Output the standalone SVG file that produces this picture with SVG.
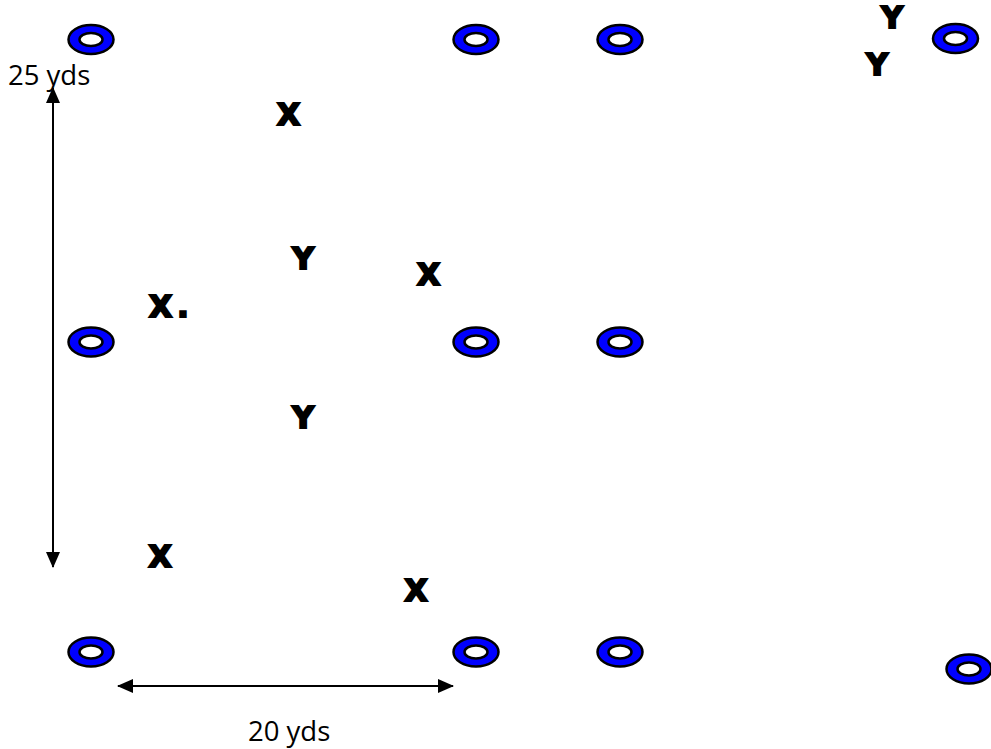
<svg xmlns="http://www.w3.org/2000/svg" width="991" height="749" viewBox="0 0 991 749">
<style>
.cone-o{fill:#0000ff;stroke:#000;stroke-width:2.5}
.cone-i{fill:#fff;stroke:#000;stroke-width:2.5}
.pl{font-family:"DejaVu Sans",sans-serif;font-weight:bold;font-size:30px;fill:#000;stroke:#000;stroke-width:2.2;stroke-linejoin:miter;text-anchor:middle}
.dim{font-family:"Open Sans",sans-serif;font-size:27.5px;fill:#000}
.ln{stroke:#000;stroke-width:2;fill:none}
</style>
<defs>
<g id="cone"><ellipse class="cone-o" cx="0" cy="0" rx="22.5" ry="14.5"/><ellipse class="cone-i" cx="0" cy="0" rx="11.5" ry="6.5"/></g>
<marker id="ah" viewBox="0 0 16 14" refX="15" refY="7" markerWidth="16" markerHeight="14" markerUnits="userSpaceOnUse" orient="auto-start-reverse"><path d="M0,0 L16,7 L0,14 Z" fill="#000"/></marker>
</defs>
<g id="cones">
<g id="c1"><use href="#cone" x="91" y="39.5"/></g>
<g id="c2"><use href="#cone" x="476" y="39.5"/></g>
<g id="c3"><use href="#cone" x="620" y="39.5"/></g>
<g id="c4"><use href="#cone" x="955.5" y="38.5"/></g>
<g id="c5"><use href="#cone" x="91" y="342"/></g>
<g id="c6"><use href="#cone" x="476" y="342"/></g>
<g id="c7"><use href="#cone" x="620" y="342"/></g>
<g id="c8"><use href="#cone" x="91" y="652"/></g>
<g id="c9"><use href="#cone" x="476" y="652"/></g>
<g id="c10"><use href="#cone" x="620" y="652"/></g>
<g id="c11"><use href="#cone" x="969" y="669"/></g>
</g>
<g id="players">
<g id="x1"><text class="pl" x="288.5" y="125">X</text></g>
<g id="y1"><text class="pl" x="303" y="269">Y</text></g>
<g id="x2"><text class="pl" x="428.5" y="285">X</text></g>
<g id="x3"><text class="pl" x="149" y="317" style="text-anchor:start">X<tspan dx="5">.</tspan></text></g>
<g id="y2"><text class="pl" x="303" y="428">Y</text></g>
<g id="x4"><text class="pl" x="160" y="567">X</text></g>
<g id="x5"><text class="pl" x="416" y="601">X</text></g>
<g id="y3"><text class="pl" x="892" y="28">Y</text></g>
<g id="y4"><text class="pl" x="877" y="75">Y</text></g>
</g>
<g id="connectors">
<line class="ln" x1="53" y1="88" x2="53" y2="567" marker-start="url(#ah)" marker-end="url(#ah)"/>
<line class="ln" x1="118" y1="686" x2="453" y2="686" marker-start="url(#ah)" marker-end="url(#ah)"/>
</g>
<g id="labels">
<text class="dim" x="8" y="85">25 yds</text>
<text class="dim" x="248" y="741">20 yds</text>
</g>
</svg>
